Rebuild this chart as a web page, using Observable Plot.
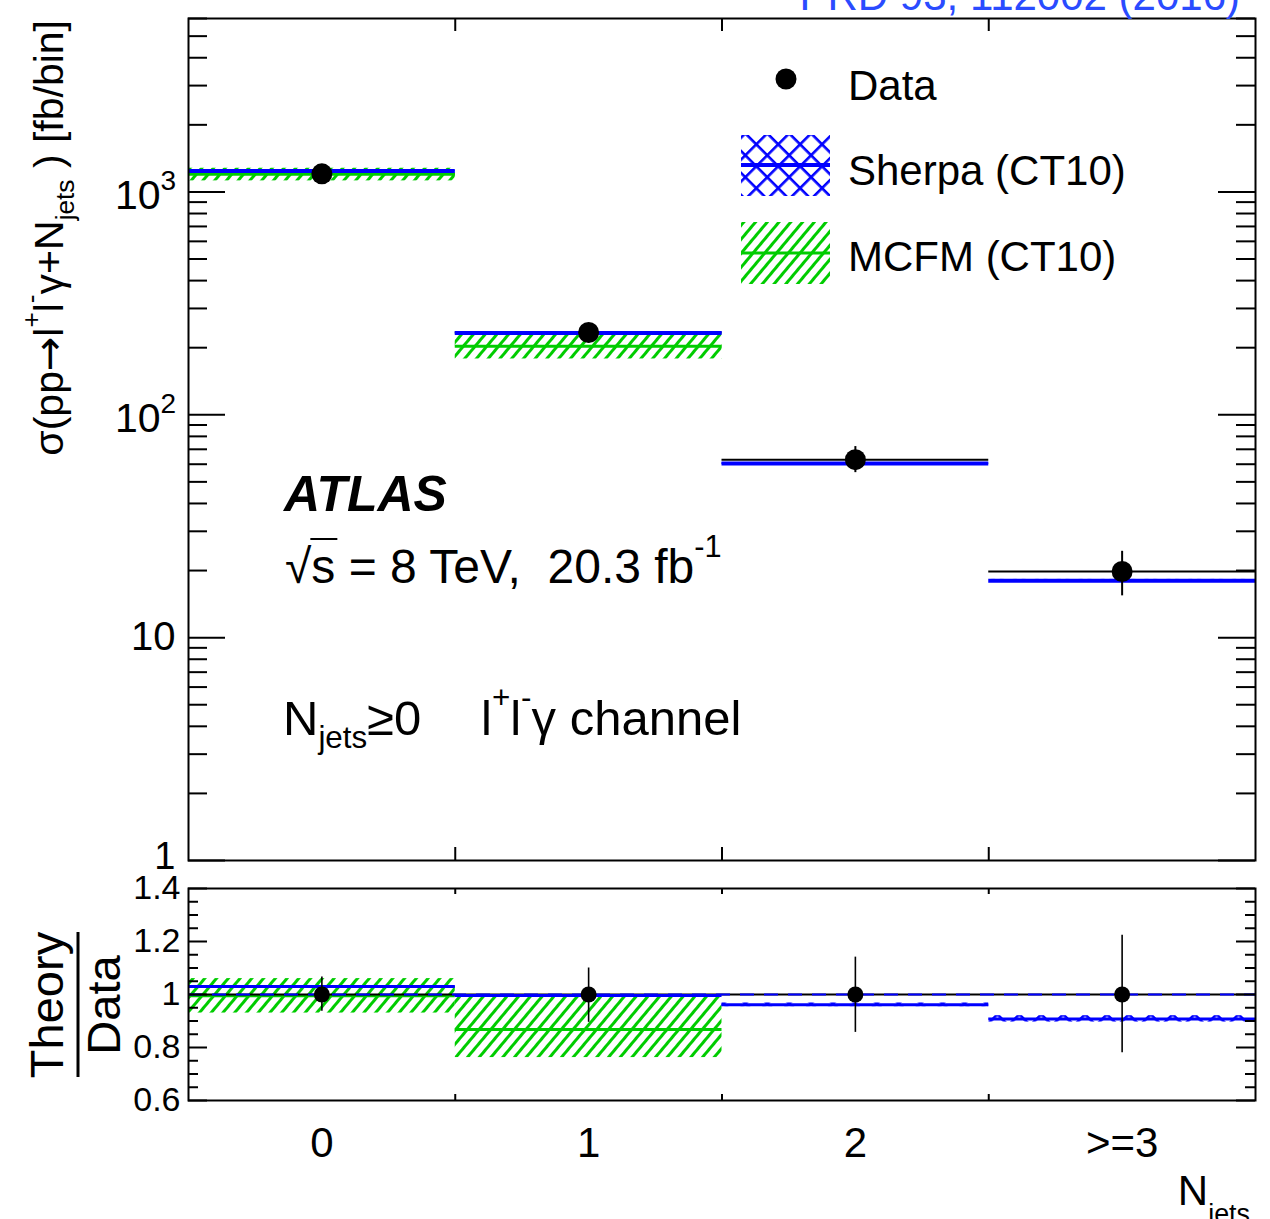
<!DOCTYPE html>
<html><head><meta charset="utf-8">
<script src="https://cdn.jsdelivr.net/npm/d3@7"></script>
<script src="https://cdn.jsdelivr.net/npm/@observablehq/plot@0.6"></script>
<style>
html,body{margin:0;padding:0;background:#fff;}
#chart{position:relative;width:1270px;height:1219px;overflow:hidden;background:#fff;font-family:"Liberation Sans",Arial,Helvetica,sans-serif;}
#chart svg{position:absolute;left:0;overflow:visible;}
text{white-space:pre;}
</style></head><body>
<div id="chart">
<svg width="0" height="0" style="position:absolute;top:0;left:0">
<defs>
<pattern id="hatchGreen" patternUnits="userSpaceOnUse" width="9" height="9" patternTransform="rotate(40)">
<rect x="0" y="0" width="3" height="9" fill="#00cc00"/>
</pattern>
<pattern id="hatchBlue" patternUnits="userSpaceOnUse" width="15.5" height="15.5" patternTransform="rotate(45)">
<rect x="0" y="0" width="2.6" height="15.5" fill="#0000ff"/>
<rect x="0" y="0" width="15.5" height="2.6" fill="#0000ff"/>
</pattern>
</defs>
</svg>
</div>
<script>
// ---------- data ----------
const categories = ["0", "1", "2", ">=3"];
const binIndex = [0, 1, 2, 3];

const dataXsec   = [1205, 234, 62.9, 19.8];
const dataXsecHi = [1283, 257, 72.0, 24.4];
const dataXsecLo = [1127, 210, 55.0, 15.4];

const sherpaXsec   = [1240, 233, 60.4, 18.0];
const sherpaXsecHi = [1252, 236, 61.0, 18.25];
const sherpaXsecLo = [1228, 230, 59.8, 17.75];

const mcfmBins   = [0, 1];
const mcfmXsec   = [1199, 203];
const mcfmXsecHi = [1277, 231];
const mcfmXsecLo = [1121, 178];

const dataRatioHi = [1.066, 1.100, 1.141, 1.224];
const dataRatioLo = [0.937, 0.895, 0.857, 0.780];
const sherpaRatio   = [1.030, 0.996, 0.961, 0.908];
const sherpaRatioHi = [1.034, 1.000, 0.968, 0.920];
const sherpaRatioLo = [1.026, 0.992, 0.954, 0.896];
const mcfmRatio   = [0.995, 0.868];
const mcfmRatioHi = [1.060, 0.990];
const mcfmRatioLo = [0.930, 0.762];

const yMajorTicks = [1, 10, 100, 1000];
const yTickBase = ["1", "10", "10", "10"];
const yTickExp  = ["", "", "2", "3"];
const yMinorTicks = [2,3,4,5,6,7,8,9, 20,30,40,50,60,70,80,90, 200,300,400,500,600,700,800,900, 2000,3000,4000,5000,6000];
const rMajorTicks = [0.6, 0.8, 1.0, 1.2, 1.4];
const rTickLabels = ["0.6", "0.8", "1", "1.2", "1.4"];
const rMinorTicks = [0.65,0.7,0.75,0.85,0.9,0.95,1.05,1.1,1.15,1.25,1.3,1.35];
const binEdges = [0.5, 1.5, 2.5];

// ---------- style ----------
const GREEN = "#00cc00", BLUE = "#0000ff";
const FONT = "Liberation Sans, Arial, Helvetica, sans-serif";
const ML = 188, MR = 15;
const PW = 1270 - ML - MR;          // plot-area width
const topH = 870, topMT = 18, topMB = 10;
const topPH = topH - topMT - topMB;
const ratH = 349, ratMT = 18, ratMB = 119;
const ratPH = ratH - ratMT - ratMB;

const chart = document.getElementById("chart");

// ---------- top panel ----------
const topPlot = Plot.plot({
  width: 1270, height: topH,
  marginLeft: ML, marginRight: MR, marginTop: topMT, marginBottom: topMB,
  style: {fontFamily: FONT, background: "transparent", overflow: "visible"},
  x: {domain: [-0.5, 3.5], axis: null},
  y: {type: "log", domain: [1, 6000], axis: null},
  marks: [
    Plot.ruleY(binIndex, {x1: d => d - 0.5, x2: d => d + 0.5, y: (d, i) => dataXsec[i], stroke: "black", strokeWidth: 2}),
    Plot.rect(mcfmBins, {x1: d => d - 0.5, x2: d => d + 0.5, y1: (d, i) => mcfmXsecLo[i], y2: (d, i) => mcfmXsecHi[i], fill: "url(#hatchGreen)"}),
    Plot.ruleY(mcfmBins, {x1: d => d - 0.5, x2: d => d + 0.5, y: (d, i) => mcfmXsec[i], stroke: GREEN, strokeWidth: 3}),
    Plot.rect(binIndex, {x1: d => d - 0.5, x2: d => d + 0.5, y1: (d, i) => sherpaXsecLo[i], y2: (d, i) => sherpaXsecHi[i], fill: "url(#hatchBlue)"}),
    Plot.ruleY(binIndex, {x1: d => d - 0.5, x2: d => d + 0.5, y: (d, i) => sherpaXsec[i], stroke: BLUE, strokeWidth: 4}),
    Plot.ruleX(binIndex, {x: d => d, y1: (d, i) => dataXsecLo[i], y2: (d, i) => dataXsecHi[i], stroke: "black", strokeWidth: 2}),
    Plot.dot(binIndex, {x: d => d, y: (d, i) => dataXsec[i], r: 10.5, fill: "black", stroke: "none"}),
    // ticks
    Plot.ruleY(yMajorTicks, {y: d => d, insetRight: PW - 37, stroke: "black", strokeWidth: 2}),
    Plot.ruleY(yMajorTicks, {y: d => d, insetLeft: PW - 37, stroke: "black", strokeWidth: 2}),
    Plot.ruleY(yMinorTicks, {y: d => d, insetRight: PW - 19, stroke: "black", strokeWidth: 2}),
    Plot.ruleY(yMinorTicks, {y: d => d, insetLeft: PW - 19, stroke: "black", strokeWidth: 2}),
    Plot.ruleX(binEdges, {x: d => d, insetBottom: topPH - 13, stroke: "black", strokeWidth: 2}),
    Plot.ruleX(binEdges, {x: d => d, insetTop: topPH - 13, stroke: "black", strokeWidth: 2}),
    Plot.frame({stroke: "black", strokeWidth: 2}),
    // tick labels
    Plot.text(yMajorTicks, {y: d => d, frameAnchor: "left", text: (d, i) => yTickBase[i],
      dx: -13, dy: 0, textAnchor: "end", lineAnchor: "middle", fontSize: 40, fill: "black",
      filter: (d, i) => yTickExp[i] === "" && d !== 1}),
    Plot.text(yMajorTicks, {y: d => d, frameAnchor: "left", text: (d, i) => yTickBase[i],
      dx: -13, dy: -4, textAnchor: "end", lineAnchor: "middle", fontSize: 38, fill: "black",
      filter: (d, i) => d === 1}),
    Plot.text(yMajorTicks, {y: d => d, frameAnchor: "left", text: (d, i) => yTickBase[i],
      dx: -28, dy: 4, textAnchor: "end", lineAnchor: "middle", fontSize: 41, fill: "black",
      filter: (d, i) => yTickExp[i] !== ""}),
    Plot.text(yMajorTicks, {y: d => d, frameAnchor: "left", text: (d, i) => yTickExp[i],
      dx: -28, dy: -11, textAnchor: "start", lineAnchor: "middle", fontSize: 28, fill: "black",
      filter: (d, i) => yTickExp[i] !== ""})
  ]
});
topPlot.style.top = "0px";
chart.appendChild(topPlot);

// ---------- ratio panel ----------
const ratPlot = Plot.plot({
  width: 1270, height: ratH,
  marginLeft: ML, marginRight: MR, marginTop: ratMT, marginBottom: ratMB,
  style: {fontFamily: FONT, background: "transparent", overflow: "visible"},
  x: {domain: [-0.5, 3.5], axis: null},
  y: {domain: [0.6, 1.4], axis: null},
  marks: [
    Plot.rect(mcfmBins, {x1: d => d - 0.5, x2: d => d + 0.5, y1: (d, i) => mcfmRatioLo[i], y2: (d, i) => mcfmRatioHi[i], fill: "url(#hatchGreen)"}),
    Plot.ruleY(mcfmBins, {x1: d => d - 0.5, x2: d => d + 0.5, y: (d, i) => mcfmRatio[i], stroke: GREEN, strokeWidth: 3}),
    Plot.ruleY([1], {stroke: "black", strokeWidth: 2}),
    Plot.ruleY([1], {stroke: BLUE, strokeWidth: 2.2, strokeDasharray: "14,10"}),
    Plot.rect(binIndex, {x1: d => d - 0.5, x2: d => d + 0.5, y1: (d, i) => sherpaRatioLo[i], y2: (d, i) => sherpaRatioHi[i], fill: "url(#hatchBlue)"}),
    Plot.ruleY(binIndex, {x1: d => d - 0.5, x2: d => d + 0.5, y: (d, i) => sherpaRatio[i], stroke: BLUE, strokeWidth: 3}),
    Plot.ruleX(binIndex, {x: d => d, y1: (d, i) => dataRatioLo[i], y2: (d, i) => dataRatioHi[i], stroke: "black", strokeWidth: 1.6}),
    Plot.dot(binIndex, {x: d => d, y: 1, r: 8, fill: "black", stroke: "none"}),
    // ticks
    Plot.ruleY(rMajorTicks, {y: d => d, insetRight: PW - 19, stroke: "black", strokeWidth: 2}),
    Plot.ruleY(rMajorTicks, {y: d => d, insetLeft: PW - 19, stroke: "black", strokeWidth: 2}),
    Plot.ruleY(rMinorTicks, {y: d => d, insetRight: PW - 10, stroke: "black", strokeWidth: 2}),
    Plot.ruleY(rMinorTicks, {y: d => d, insetLeft: PW - 10, stroke: "black", strokeWidth: 2}),
    Plot.ruleX(binEdges, {x: d => d, insetBottom: ratPH - 6, stroke: "black", strokeWidth: 2}),
    Plot.ruleX(binEdges, {x: d => d, insetTop: ratPH - 6, stroke: "black", strokeWidth: 2}),
    Plot.frame({stroke: "black", strokeWidth: 2}),
    Plot.text(rMajorTicks, {y: d => d, frameAnchor: "left", text: (d, i) => rTickLabels[i],
      dx: -8, dy: 0, textAnchor: "end", lineAnchor: "middle", fontSize: 34, fill: "black"}),
    Plot.text(binIndex, {x: d => d, frameAnchor: "bottom", text: d => categories[d],
      dy: 43, lineAnchor: "middle", fontSize: 42, fill: "black"})
  ]
});
ratPlot.style.top = topH + "px";
chart.appendChild(ratPlot);

// ---------- overlay: titles, legend, labels ----------
const ov = d3.select(chart).append("svg")
  .attr("width", 1270).attr("height", 1219)
  .style("top", "0px").style("pointer-events", "none")
  .attr("font-family", FONT);

function rich(parent, x, y, parts, size, attrs = {}, subShift = 0.27) {
  const t = parent.append("text").attr("x", x).attr("y", y).attr("font-size", size).attr("fill", "black");
  for (const [k, v] of Object.entries(attrs)) t.attr(k, v);
  let cur = 0;
  for (const p of parts) {
    const [str, kind, fam] = typeof p === "string" ? [p, null, null] : p;
    let target = 0, fs = size;
    if (kind === "sup") { target = -0.55 * size; fs = 0.64 * size; }
    if (kind === "sub") { target = subShift * size; fs = 0.64 * size; }
    const ts = t.append("tspan").attr("dy", target - cur).attr("font-size", fs).text(str);
    if (fam) ts.attr("font-family", fam);
    cur = target;
  }
  return t;
}

// journal reference (cut at top, as in the reference)
ov.append("text").attr("x", 1240).attr("y", 10).attr("text-anchor", "end")
  .attr("font-size", 42).attr("font-weight", 300).attr("fill", "#2a4bff")
  .text("PRD 93, 112002 (2016)");

// top y title
const gy = ov.append("g").attr("transform", "translate(63,20) rotate(-90)");
rich(gy, 0, 0, ["σ(pp", ["→", null, "DejaVu Sans"], "l", ["+", "sup"], "l", ["-", "sup"], "γ+N", ["jets", "sub"], " ) [fb/bin]"], 41, {"text-anchor": "end"});

// ratio y title
const gr = ov.append("g").attr("transform", "translate(63,1005) rotate(-90)");
gr.append("text").attr("x", 0).attr("y", 0).attr("text-anchor", "middle").attr("font-size", 47).text("Theory");
gr.append("text").attr("x", 0).attr("y", 57).attr("text-anchor", "middle").attr("font-size", 47).text("Data");
gr.append("line").attr("x1", -72).attr("x2", 73).attr("y1", 15).attr("y2", 15).attr("stroke", "black").attr("stroke-width", 3);

// x title (cut at the bottom, as in the reference)
rich(ov, 1250, 1205, ["N", ["jets", "sub"]], 42, {"text-anchor": "end"}, 0.42);

// legend
ov.append("circle").attr("cx", 786).attr("cy", 79).attr("r", 10.5).attr("fill", "black");
ov.append("text").attr("x", 848).attr("y", 100).attr("font-size", 42).text("Data");
ov.append("rect").attr("x", 741).attr("y", 135).attr("width", 89).attr("height", 61).attr("fill", "url(#hatchBlue)");
ov.append("line").attr("x1", 741).attr("x2", 830).attr("y1", 165).attr("y2", 165).attr("stroke", BLUE).attr("stroke-width", 4);
ov.append("text").attr("x", 848).attr("y", 185).attr("font-size", 42).text("Sherpa (CT10)");
ov.append("rect").attr("x", 741).attr("y", 222).attr("width", 89).attr("height", 62).attr("fill", "url(#hatchGreen)");
ov.append("line").attr("x1", 741).attr("x2", 830).attr("y1", 253).attr("y2", 253).attr("stroke", GREEN).attr("stroke-width", 3);
ov.append("text").attr("x", 848).attr("y", 271).attr("font-size", 42).text("MCFM (CT10)");

// ATLAS label block
ov.append("text").attr("x", 284).attr("y", 511).attr("font-size", 50)
  .attr("font-weight", "bold").attr("font-style", "italic").text("ATLAS");
const sq = rich(ov, 285, 583, ["√s = 8 TeV,  20.3 fb", ["-1", "sup"]], 48);
{
  const node = sq.node();
  const tsp = node.querySelector("tspan");
  const wR = tsp.getSubStringLength(0, 1), wS = tsp.getSubStringLength(1, 1);
  const x0 = 285 + wR - 1;
  ov.append("line").attr("x1", x0).attr("x2", x0 + wS + 3).attr("y1", 583 - 44).attr("y2", 583 - 44)
    .attr("stroke", "black").attr("stroke-width", 2);
}
rich(ov, 283, 735, ["N", ["jets", "sub"], "≥0"], 49);
rich(ov, 481, 735, ["l", ["+", "sup"], "l", ["-", "sup"], "γ channel"], 49);
</script>
</body></html>
